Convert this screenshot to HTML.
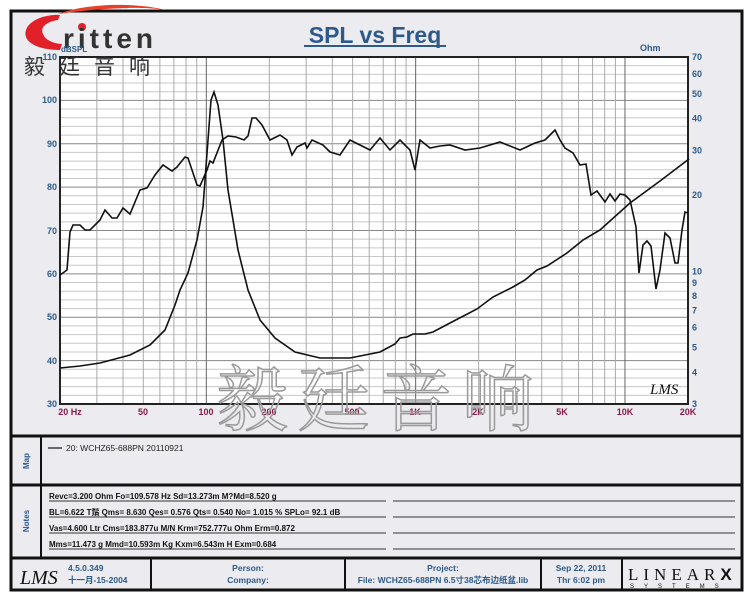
<!DOCTYPE html>
<html><head><meta charset="utf-8"><style>
body{margin:0;background:#fff;}
svg{display:block;font-family:"Liberation Sans","Noto Sans CJK SC",sans-serif;}
</style></head><body>
<svg id="s" width="750" height="600" viewBox="0 0 750 600" xmlns="http://www.w3.org/2000/svg">
<rect x="0" y="0" width="750" height="600" fill="#fff"/>
<rect x="11" y="11" width="731" height="579" fill="#ecebef" stroke="#111" stroke-width="3"/>
<rect x="60" y="57" width="628" height="347" fill="#fff"/>
<g id="grid"></g>
<rect x="60" y="57" width="628" height="347" fill="none" stroke="#222" stroke-width="2"/>
<path d="M58,14 C90,2 140,3 165,10 C140,6 100,8 58,14Z" fill="#e8402a"/>
<path d="M26,30 C30,18 50,14 60,15 L58,20 C45,22 40,28 43,34 C46,42 58,44 62,44 L60,50 C38,50 22,42 26,30Z" fill="#e1202a"/>
<circle cx="82" cy="27" r="4" fill="#e1202a"/>
<text x="63" y="48" font-size="28" font-weight="bold" fill="#333" letter-spacing="4">ritten</text>
<text x="24" y="74" font-size="21" fill="#333" letter-spacing="14" font-family="'Noto Sans CJK SC',sans-serif">毅廷音响</text>
<text x="61" y="52" font-size="8" fill="#2d5a8a" font-weight="bold">dBSPL</text>
<text x="640" y="51" font-size="9" fill="#2d5a8a" font-weight="bold">Ohm</text>
<text x="375" y="43" font-size="23" font-weight="bold" fill="#2d5a8a" text-anchor="middle">SPL vs Freq</text>
<line x1="304" y1="46" x2="446" y2="46" stroke="#2d5a8a" stroke-width="2"/>
<g font-size="9" fill="#2d5a8a" font-weight="bold" text-anchor="end">
<text x="57" y="60">110</text><text x="57" y="103">100</text><text x="57" y="147">90</text><text x="57" y="190">80</text><text x="57" y="234">70</text><text x="57" y="277">60</text><text x="57" y="320">50</text><text x="57" y="364">40</text><text x="57" y="407">30</text>
</g>
<g id="rax" font-size="9" fill="#2d5a8a" font-weight="bold"></g>
<g font-size="9" fill="#8b1a4a" font-weight="bold" text-anchor="middle">
<text x="70" y="415">20  Hz</text><text x="143" y="415">50</text><text x="206" y="415">100</text><text x="269" y="415">200</text><text x="352" y="415">500</text><text x="415" y="415">1K</text><text x="478" y="415">2K</text><text x="562" y="415">5K</text><text x="625" y="415">10K</text><text x="688" y="415">20K</text>
</g>
<text x="380" y="425" font-size="72" fill="none" stroke="#9a9a9a" stroke-width="1.5" text-anchor="middle" letter-spacing="10" font-family="'Noto Serif CJK SC','Noto Sans CJK SC',serif">毅廷音响</text>
<text x="650" y="394" font-size="15" font-style="italic" fill="#111" font-family="'Liberation Serif',serif">LMS</text>
<polyline id="spl" fill="none" stroke="#111" stroke-width="1.6"/>
<polyline id="imp" fill="none" stroke="#111" stroke-width="1.6"/>
<line x1="11" y1="436" x2="742" y2="436" stroke="#111" stroke-width="3"/>
<line x1="11" y1="485" x2="742" y2="485" stroke="#111" stroke-width="3"/>
<line x1="11" y1="558" x2="742" y2="558" stroke="#111" stroke-width="3"/>
<line x1="41" y1="436" x2="41" y2="558" stroke="#111" stroke-width="2"/>
<text transform="translate(29,461) rotate(-90)" font-size="8" font-weight="bold" fill="#2d5a8a" text-anchor="middle">Map</text>
<text transform="translate(29,521) rotate(-90)" font-size="8" font-weight="bold" fill="#2d5a8a" text-anchor="middle">Notes</text>
<line x1="48" y1="448" x2="62" y2="448" stroke="#111" stroke-width="1.2"/>
<text x="66" y="451" font-size="8.5" fill="#222">20: WCHZ65-688PN  20110921</text>
<g font-size="8" fill="#111" font-weight="bold" font-family="'Liberation Sans','Noto Sans CJK SC',sans-serif">
<text x="49" y="499">Revc=3.200 Ohm  Fo=109.578 Hz  Sd=13.273m M?Md=8.520 g</text>
<text x="49" y="515">BL=6.622 T鬚  Qms= 8.630  Qes= 0.576  Qts= 0.540  No= 1.015 %  SPLo= 92.1 dB</text>
<text x="49" y="531">Vas=4.600 Ltr  Cms=183.877u M/N  Krm=752.777u Ohm  Erm=0.872</text>
<text x="49" y="547">Mms=11.473 g  Mmd=10.593m Kg  Kxm=6.543m H  Exm=0.684</text>
</g>
<g stroke="#333" stroke-width="1">
<line x1="49" y1="501" x2="386" y2="501"/><line x1="393" y1="501" x2="735" y2="501"/>
<line x1="49" y1="517" x2="386" y2="517"/><line x1="393" y1="517" x2="735" y2="517"/>
<line x1="49" y1="533" x2="386" y2="533"/><line x1="393" y1="533" x2="735" y2="533"/>
<line x1="49" y1="549" x2="386" y2="549"/><line x1="393" y1="549" x2="735" y2="549"/>
</g>
<g stroke="#111" stroke-width="2">
<line x1="151" y1="558" x2="151" y2="590"/><line x1="345" y1="558" x2="345" y2="590"/><line x1="541" y1="558" x2="541" y2="590"/><line x1="622" y1="558" x2="622" y2="590"/>
</g>
<text x="20" y="584" font-size="20" font-style="italic" fill="#111" font-family="'Liberation Serif',serif">LMS</text>
<g font-size="8.5" font-weight="bold" fill="#2d5a8a" font-family="'Liberation Sans','Noto Sans CJK SC',sans-serif">
<text x="68" y="571">4.5.0.349</text><text x="68" y="583">十一月-15-2004</text>
<text x="248" y="571" text-anchor="middle">Person:</text><text x="248" y="583" text-anchor="middle">Company:</text>
<text x="443" y="571" text-anchor="middle">Project:</text><text x="443" y="583" text-anchor="middle">File: WCHZ65-688PN  6.5寸38芯布边纸盆.lib</text>
<text x="581" y="571" text-anchor="middle">Sep 22, 2011</text><text x="581" y="583" text-anchor="middle">Thr  6:02 pm</text>
</g>
<text x="628" y="580" font-size="17" fill="#111" letter-spacing="5" font-family="'Liberation Serif',serif">LINEAR<tspan font-weight="bold" font-family="'Liberation Sans',sans-serif">X</tspan></text>
<text x="630" y="588" font-size="6" fill="#111" letter-spacing="10">SYSTEMS</text>
</svg>
<script>
var NS="http://www.w3.org/2000/svg",g=document.getElementById('grid');
function ln(x1,y1,x2,y2,c,w){var l=document.createElementNS(NS,'line');l.setAttribute('x1',x1);l.setAttribute('y1',y1);l.setAttribute('x2',x2);l.setAttribute('y2',y2);l.setAttribute('stroke',c);l.setAttribute('stroke-width',w||1);g.appendChild(l);}
function fx(f){return 60+209.33*Math.log10(f/20);}
var fs=[];for(var d=10;d<=10000;d*=10)for(var k=1;k<10;k++){var f=d*k;if(f>=20&&f<=20000)fs.push(f);}fs.push(20000);
for(var dB=30;dB<=110;dB+=2){var y=404-(dB-30)*347/80;ln(60,y,688,y,dB%10==0?'#888':'#c8c8c8',1);}
fs.forEach(function(f){var x=fx(f);var m=(f==100||f==1000||f==10000);ln(x,57,x,404,m?'#666':'#aaa',1);});
var r=document.getElementById('rax');
[3,4,5,6,7,8,9,10,20,30,40,50,60,70].forEach(function(o){var y=404-347*Math.log10(o/3)/Math.log10(70/3);var t=document.createElementNS(NS,'text');t.setAttribute('x',692);t.setAttribute('y',y+3);t.textContent=o;r.appendChild(t);});
var spl=[[60,275],[67,270],[70,232],[73,225],[80,225],[85,230],[90,230],[95,225],[100,220],[105,210],[112,218],[117,218],[123,208],[130,214],[140,190],[147,188],[155,175],[163,165],[172,171],[177,167],[185,157],[188,158],[197,185],[200,186],[207,170],[210,161],[213,163],[222,140],[228,136],[236,137],[244,140],[248,136],[252,118],[256,118],[262,125],[270,140],[280,135],[287,140],[292,155],[297,147],[305,143],[307,148],[312,140],[323,145],[330,152],[340,155],[350,140],[360,145],[370,150],[380,138],[390,150],[400,140],[410,150],[415,170],[420,140],[430,148],[440,146],[450,145],[465,150],[480,148],[500,142],[520,150],[535,143],[545,140],[555,130],[560,140],[565,148],[573,153],[580,165],[586,164],[591,195],[597,191],[605,202],[610,194],[615,201],[620,194],[625,195],[630,200],[636,227],[639,273],[643,245],[647,241],[651,246],[656,289],[660,270],[665,233],[670,238],[675,263],[678,263],[682,230],[685,212],[688,213]];
var imp=[[60,368],[80,366],[100,363],[130,355],[150,345],[165,330],[175,305],[180,290],[188,273],[197,240],[203,207],[208,140],[211,100],[214,92],[218,105],[223,140],[228,190],[238,250],[248,290],[260,320],[275,338],[295,352],[320,358],[350,358],[380,352],[395,344],[400,338],[407,337],[413,334],[425,334],[433,332],[450,323],[477,309],[493,297],[513,287],[525,280],[537,270],[547,266],[567,253],[583,240],[600,230],[630,203],[660,181],[689,159]];
function pts(a){return a.map(function(p){return p[0]+','+p[1];}).join(' ');}
document.getElementById('spl').setAttribute('points',pts(spl));
document.getElementById('imp').setAttribute('points',pts(imp));
</script>
</body></html>
